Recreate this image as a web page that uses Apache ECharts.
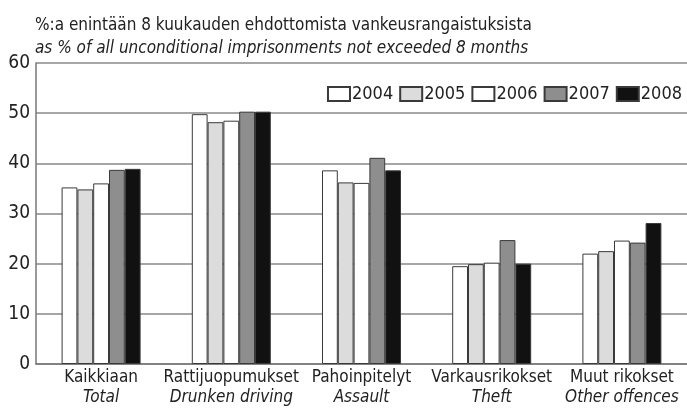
<!DOCTYPE html>
<html>
<head>
<meta charset="utf-8">
<script src="https://cdn.jsdelivr.net/npm/echarts@6/dist/echarts.min.js"></script>
<style>
  html, body { margin: 0; padding: 0; background: #fff; }
  #chart { width: 687px; height: 411px; }
</style>
</head>
<body>
<div id="chart"></div>
<script>
// categories: Finnish name + English name
const categoriesFi = ['Kaikkiaan', 'Rattijuopumukset', 'Pahoinpitelyt', 'Varkausrikokset', 'Muut rikokset'];
const categoriesEn = ['Total', 'Drunken driving', 'Assault', 'Theft', 'Other offences'];

const years = ['2004', '2005', '2006', '2007', '2008'];

// % per year, order as categories
const values2004 = [35.2, 49.8, 38.6, 19.5, 22.0];
const values2005 = [34.8, 48.2, 36.2, 19.9, 22.5];
const values2006 = [36.0, 48.5, 36.1, 20.2, 24.6];
const values2007 = [38.7, 50.3, 41.1, 24.7, 24.2];
const values2008 = [38.9, 50.3, 38.6, 20.0, 28.1];

const yTicks = [0, 10, 20, 30, 40, 50, 60];

const FONT = '"DejaVu Sans Condensed", "Liberation Sans", Arial, sans-serif';
const fills = ['#ffffff', '#dcdcdc', '#ffffff', '#8e8e8e', '#111111'];
const allValues = [values2004, values2005, values2006, values2007, values2008];

const chart = echarts.init(document.getElementById('chart'));

const series = years.map((y, i) => ({
    name: y,
    type: 'bar',
    data: allValues[i],
    barWidth: 15.8,
    barGap: '0%',
    itemStyle: {
        color: fills[i],
        borderColor: '#3a3a3a',
        borderWidth: 1
    },
    emphasis: { disabled: true }
}));

chart.setOption({
    animation: false,
    backgroundColor: '#ffffff',
    textStyle: { fontFamily: FONT, color: '#222' },
    title: [
        {
            text: '%:a enintään 8 kuukauden ehdottomista vankeusrangaistuksista',
            left: 30,
            top: 12,
            textStyle: { fontFamily: FONT, fontSize: 17, fontWeight: 'normal', color: '#222' }
        },
        {
            text: 'as % of all unconditional imprisonments not exceeded 8 months',
            left: 30,
            top: 35,
            textStyle: { fontFamily: FONT, fontSize: 17, fontWeight: 'normal', fontStyle: 'italic', color: '#222' }
        }
    ],
    legend: {
        data: years,
        icon: 'rect',
        right: 0,
        top: 80,
        itemWidth: 22,
        itemHeight: 14,
        itemGap: 6,
        textStyle: { fontFamily: FONT, fontSize: 18, color: '#222', padding: [0, 0, 0, -3] }
    },
    grid: {
        left: 36,
        right: -3,
        top: 63,
        bottom: 47
    },
    xAxis: {
        type: 'category',
        data: categoriesFi,
        axisLine: { show: true, lineStyle: { color: '#777', width: 1.5 } },
        axisTick: { show: false },
        axisLabel: {
            interval: 0,
            margin: 4,
            formatter: (v, idx) => '{a|' + v + '}\n{b|' + categoriesEn[idx] + '}',
            rich: {
                a: { fontFamily: FONT, fontSize: 17, color: '#222', lineHeight: 20 },
                b: { fontFamily: FONT, fontSize: 17, color: '#222', fontStyle: 'italic', lineHeight: 20 }
            }
        }
    },
    yAxis: {
        type: 'value',
        min: yTicks[0],
        max: yTicks[yTicks.length - 1],
        interval: 10,
        axisLine: { show: true, lineStyle: { color: '#777', width: 1.5 } },
        axisTick: { show: false },
        axisLabel: { fontFamily: FONT, fontSize: 19, color: '#222', margin: 6 },
        splitLine: { show: true, lineStyle: { color: '#888', width: 1.5 } }
    },
    series: series
});
</script>
</body>
</html>
